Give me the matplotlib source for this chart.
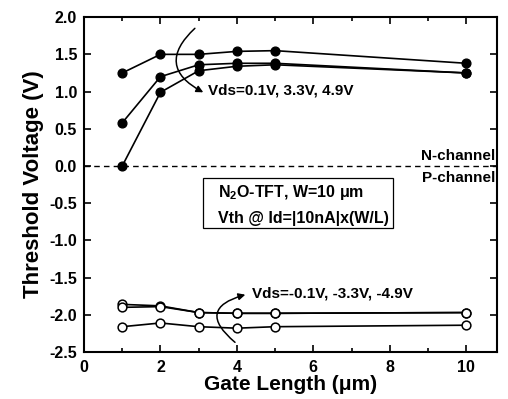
import matplotlib.pyplot as plt
from matplotlib.patches import Rectangle
from matplotlib.ticker import MultipleLocator

plt.rcParams['font.family'] = ['Liberation Sans', 'DejaVu Sans']
plt.rcParams['font.weight'] = 'bold'
plt.rcParams['mathtext.fontset'] = 'custom'
plt.rcParams['mathtext.rm'] = 'Liberation Sans:bold'
plt.rcParams['mathtext.it'] = 'Liberation Sans:bold'
plt.rcParams['mathtext.bf'] = 'Liberation Sans:bold'

gate_length = [1, 2, 3, 4, 5, 10]

# N-channel, Vds = 0.1V, 3.3V, 4.9V
vth_n1 = [1.25, 1.50, 1.50, 1.54, 1.55, 1.38]
vth_n2 = [0.58, 1.20, 1.36, 1.38, 1.38, 1.25]
vth_n3 = [0.00, 0.99, 1.28, 1.34, 1.36, 1.25]

# P-channel, Vds = -0.1V, -3.3V, -4.9V
vth_p1 = [-1.86, -1.88, -1.97, -1.98, -1.98, -1.97]
vth_p2 = [-1.90, -1.89, -1.97, -1.98, -1.98, -1.97]
vth_p3 = [-2.16, -2.11, -2.16, -2.18, -2.16, -2.14]

fig = plt.figure(figsize=(5.08, 3.99), dpi=100)
ax = fig.add_axes([0.1654, 0.1178, 0.8126, 0.8392])

for y in (vth_n1, vth_n2, vth_n3):
    ax.plot(gate_length, y, color='black', lw=1.2, marker='o', ms=6.3,
            mfc='black', mec='black')
for y in (vth_p1, vth_p2, vth_p3):
    ax.plot(gate_length, y, color='black', lw=1.2, marker='o', ms=6.3,
            mfc='white', mec='black', mew=1.1)

ax.axhline(0, color='black', lw=1.0, ls=(0, (4, 3)))

ax.set_xlim(0, 10.8)
ax.set_ylim(-2.5, 2.0)
ax.xaxis.set_major_locator(MultipleLocator(2))
ax.xaxis.set_minor_locator(MultipleLocator(1))
ax.yaxis.set_major_locator(MultipleLocator(0.5))
ax.yaxis.set_major_formatter(plt.FormatStrFormatter('%.1f'))
ax.tick_params(which='both', direction='in', top=True, right=True,
               labelsize=11.5, width=1.2)
ax.tick_params(axis='y', pad=5)
ax.tick_params(axis='x', pad=6)
ax.tick_params(which='major', length=5)
ax.tick_params(which='minor', length=3)
for s in ax.spines.values():
    s.set_linewidth(1.5)

ax.set_xlabel('Gate Length (\u03bcm)', fontsize=15, fontweight='bold', labelpad=0)
ax.set_ylabel('Threshold Voltage (V)', fontsize=16, fontweight='bold', labelpad=4)

ax.text(10.75, 0.04, 'N-channel', ha='right', va='bottom', fontsize=11, fontweight='bold')
ax.text(10.75, -0.07, 'P-channel', ha='right', va='top', fontsize=11, fontweight='bold')

ax.add_patch(Rectangle((3.12, -0.83), 4.97, 0.67, fc='white', ec='black', lw=0.9, zorder=3))
ax.text(3.5, -0.36, 'N$_2$O-TFT, W=10 \u03bcm', ha='left', va='center',
        fontsize=11.5, fontweight='bold', zorder=4)
ax.text(3.5, -0.70, 'Vth @ Id=|10nA|x(W/L)', ha='left', va='center',
        fontsize=11.5, fontweight='bold', zorder=4)

ax.text(3.25, 1.02, 'Vds=0.1V, 3.3V, 4.9V', ha='left', va='center',
        fontsize=11, fontweight='bold')
ax.annotate('', xy=(3.12, 0.99), xytext=(2.9, 1.85),
            arrowprops=dict(arrowstyle='-|>', color='black', lw=1.1,
                            connectionstyle='arc3,rad=0.7', mutation_scale=10,
                            shrinkA=0, shrinkB=0))

ax.text(4.4, -1.71, 'Vds=-0.1V, -3.3V, -4.9V', ha='left', va='center',
        fontsize=11, fontweight='bold')
ax.annotate('', xy=(4.22, -1.73), xytext=(3.95, -2.37),
            arrowprops=dict(arrowstyle='-|>', color='black', lw=1.1,
                            connectionstyle='arc3,rad=-0.95', mutation_scale=10,
                            shrinkA=0, shrinkB=0))

fig.savefig('out.png', dpi=100)
